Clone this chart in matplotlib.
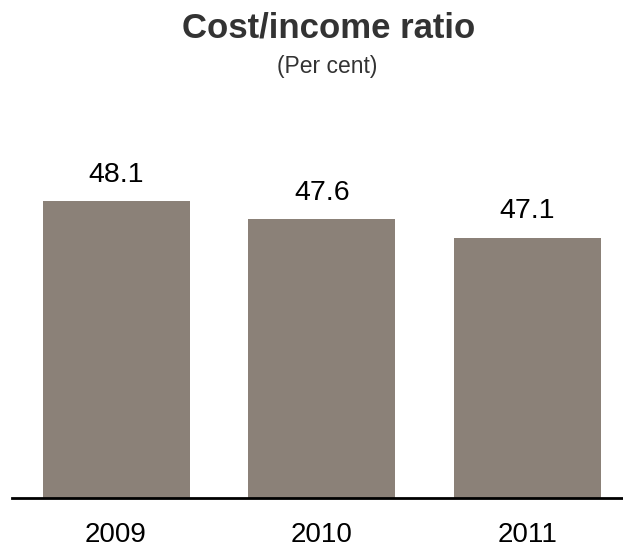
import matplotlib
matplotlib.use("Agg")
import matplotlib.pyplot as plt

years = ["2009", "2010", "2011"]
ratios = [48.1, 47.6, 47.1]

bar_color = "#8b8178"

plt.rcParams["font.family"] = ["Liberation Sans", "DejaVu Sans"]

fig = plt.figure(figsize=(6.23, 5.48), dpi=100)
ax = fig.add_axes([12 / 623, 50.5 / 548, 611 / 623, 366 / 548])

x = list(range(len(years)))
bars = ax.bar(x, ratios, width=0.7145, color=bar_color, zorder=2)

ax.set_ylim(40, 50)
ax.set_xlim(-0.5055, 2.4642)

for xi, v in zip(x, ratios):
    ax.annotate(f"{v:.1f}", (xi, v), xytext=(0, 9.5), textcoords="offset points",
                ha="center", va="bottom", fontsize=20.5, color="black")

ax.set_xticks(x)
ax.set_xticklabels(years, fontsize=20)
ax.tick_params(axis="x", length=0, pad=18)
ax.set_yticks([])

for side in ("top", "right", "left"):
    ax.spines[side].set_visible(False)
ax.spines["bottom"].set_linewidth(2)
ax.spines["bottom"].set_color("black")

fig.text(329 / 623, 1 - 37 / 548, "Cost/income ratio", ha="center", va="baseline",
         fontsize=25, fontweight="bold", color="#333333")
fig.text(327 / 623, 1 - 73 / 548, "(Per cent)", ha="center", va="baseline",
         fontsize=16.5, color="#333333")

fig.savefig("out.png", dpi=100)
